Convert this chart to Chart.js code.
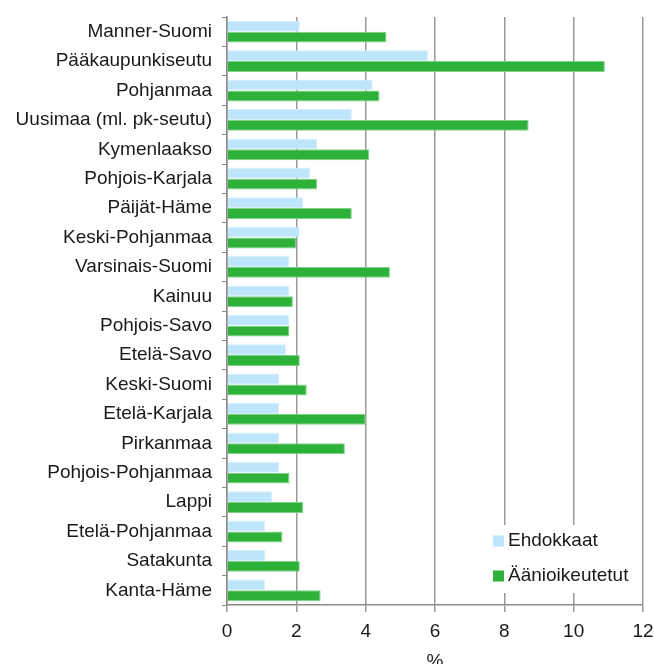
<!DOCTYPE html>
<html>
<head>
<meta charset="utf-8">
<script src="https://cdn.jsdelivr.net/npm/chart.js@4/dist/chart.umd.min.js"></script>
<style>
  html, body { margin: 0; padding: 0; background: #fff; overflow: hidden; }
  #wrap { width: 654px; height: 664px; position: relative; }
</style>
</head>
<body>
<div id="wrap"><canvas id="chart"></canvas></div>
<script>
const regions = [
  "Manner-Suomi", "Pääkaupunkiseutu", "Pohjanmaa", "Uusimaa (ml. pk-seutu)",
  "Kymenlaakso", "Pohjois-Karjala", "Päijät-Häme", "Keski-Pohjanmaa",
  "Varsinais-Suomi", "Kainuu", "Pohjois-Savo", "Etelä-Savo", "Keski-Suomi",
  "Etelä-Karjala", "Pirkanmaa", "Pohjois-Pohjanmaa", "Lappi",
  "Etelä-Pohjanmaa", "Satakunta", "Kanta-Häme",
];
const ehdokkaat = [2.1, 5.8, 4.2, 3.6, 2.6, 2.4, 2.2, 2.1, 1.8, 1.8, 1.8, 1.7, 1.5, 1.5, 1.5, 1.5, 1.3, 1.1, 1.1, 1.1];
const aanioikeutetut = [4.6, 10.9, 4.4, 8.7, 4.1, 2.6, 3.6, 2.0, 4.7, 1.9, 1.8, 2.1, 2.3, 4.0, 3.4, 1.8, 2.2, 1.6, 2.1, 2.7];
const xTicks = [0, 2, 4, 6, 8, 10, 12];

const FONT = "'Liberation Sans', Arial, sans-serif";

// legend drawn inside the plot, lower right, on a white box
const insideLegend = {
  id: "insideLegend",
  afterDraw(chart) {
    const { ctx } = chart;
    const x = 488, y = 525;
    ctx.save();
    ctx.fillStyle = "#fff";
    ctx.fillRect(x, y, 150, 68);
    ctx.font = "19px " + FONT;
    ctx.textBaseline = "middle";
    chart.data.datasets.forEach((ds, i) => {
      const cy = y + 16 + i * 35;
      ctx.fillStyle = ds.backgroundColor;
      ctx.fillRect(x + 5, cy - 5.5, 11, 11);
      ctx.fillStyle = "#1a1a1a";
      ctx.fillText(ds.label, x + 20, cy);
    });
    ctx.restore();
  },
};

new Chart(document.getElementById("chart"), {
  type: "bar",
  data: {
    labels: regions,
    datasets: [
      {
        label: "Ehdokkaat",
        data: ehdokkaat,
        backgroundColor: "#bde5fb",
        borderColor: "#d6effd",
        borderWidth: 1,
        categoryPercentage: 0.74,
        barPercentage: 1,
      },
      {
        label: "Äänioikeutetut",
        data: aanioikeutetut,
        backgroundColor: "#2db139",
        borderColor: "#7fd188",
        borderWidth: 1,
        categoryPercentage: 0.74,
        barPercentage: 1,
      },
    ],
  },
  options: {
    indexAxis: "y",
    responsive: true,
    maintainAspectRatio: false,
    animation: false,
    layout: { padding: { top: 17, right: 11, left: 0, bottom: 0 } },
    plugins: {
      legend: { display: false },
      tooltip: { enabled: false },
    },
    scales: {
      x: {
        min: 0,
        max: 12,
        afterBuildTicks: (scale) => {
          scale.ticks = xTicks.map((v) => ({ value: v }));
        },
        afterFit: (scale) => {
          scale.height = 59;
          scale.paddingLeft = 0;
          scale.paddingRight = 0;
        },
        grid: { color: "#9a9a9a", lineWidth: 1.5, tickLength: 7 },
        border: { color: "#8a8a8a", width: 1.5 },
        ticks: { color: "#1a1a1a", font: { family: FONT, size: 19 }, padding: 8 },
        title: {
          display: true,
          text: "%",
          color: "#1a1a1a",
          font: { family: FONT, size: 19, lineHeight: "4px" },
          padding: 0,
        },
      },
      y: {
        afterFit: (scale) => {
          scale.width = 227;
          scale.paddingTop = 0;
          scale.paddingBottom = 0;
        },
        grid: { drawOnChartArea: false, color: "#8a8a8a", tickLength: 5 },
        border: { color: "#8a8a8a", width: 1.5 },
        ticks: { color: "#1a1a1a", font: { family: FONT, size: 19 }, padding: 10 },
      },
    },
  },
  plugins: [insideLegend],
});
</script>
</body>
</html>
